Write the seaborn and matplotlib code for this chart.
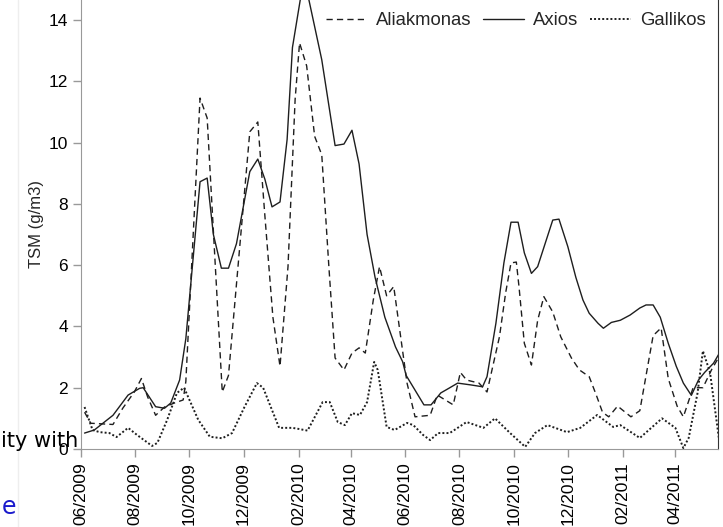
import pandas as pd
import numpy as np
import matplotlib
matplotlib.use('Agg')
import matplotlib.pyplot as plt
import matplotlib.dates as mdates
from matplotlib.lines import Line2D
import seaborn as sns

# values (TSM, g/m3)
aliakmonas_dates = ['2009-06-05', '2009-06-12', '2009-07-07', '2009-07-18', '2009-07-31', '2009-08-08',
                    '2009-08-15', '2009-08-24', '2009-09-03', '2009-09-14', '2009-09-24', '2009-09-27',
                    '2009-10-13', '2009-10-21', '2009-11-07', '2009-11-14', '2009-12-08', '2009-12-17',
                    '2009-12-25', '2010-01-03', '2010-01-11', '2010-01-20', '2010-01-28', '2010-02-02',
                    '2010-02-10', '2010-02-19', '2010-02-27', '2010-03-07', '2010-03-14', '2010-03-24',
                    '2010-04-02', '2010-04-10', '2010-04-17', '2010-04-26', '2010-05-03', '2010-05-11',
                    '2010-05-19', '2010-06-03', '2010-06-12', '2010-06-29', '2010-07-07', '2010-07-25',
                    '2010-08-02', '2010-08-09', '2010-08-23', '2010-09-01', '2010-09-15', '2010-09-22',
                    '2010-09-28', '2010-10-04', '2010-10-07', '2010-10-13', '2010-10-21', '2010-10-28',
                    '2010-11-04', '2010-11-14', '2010-11-23', '2010-12-05', '2010-12-14', '2010-12-25',
                    '2011-01-02', '2011-01-09', '2011-01-16', '2011-01-26', '2011-02-10', '2011-02-20',
                    '2011-03-07', '2011-03-16', '2011-03-24', '2011-04-03', '2011-04-10', '2011-04-21',
                    '2011-05-02', '2011-05-12', '2011-05-21']
aliakmonas = [1.2, 0.84, 0.8, 1.33, 1.86, 2.3, 1.7, 1.1, 1.37, 1.5, 1.6, 2.2,
              11.45, 10.8, 1.86, 2.4, 10.35, 10.67, 7.6, 4.3, 2.7, 5.95, 11.4, 13.25,
              12.5, 10.2, 9.6, 5.95, 2.97, 2.58, 3.13, 3.3, 3.13, 4.86, 5.95, 5.0,
              5.3, 2.15, 1.05, 1.1, 1.76, 1.44, 2.5, 2.25, 2.15, 1.86, 3.66, 5.1,
              6.07, 6.1, 5.3, 3.45, 2.74, 4.2, 4.97, 4.47, 3.66, 2.97, 2.58, 2.36,
              1.76, 1.2, 1.05, 1.4, 1.05, 1.25, 3.7, 3.95, 2.3, 1.4, 1.05, 2.0,
              2.0, 2.6, 3.05]

axios_dates = ['2009-06-05', '2009-06-16', '2009-07-07', '2009-07-24', '2009-08-06', '2009-08-10',
               '2009-08-24', '2009-09-03', '2009-09-10', '2009-09-20', '2009-09-27', '2009-10-13',
               '2009-10-21', '2009-10-28', '2009-11-06', '2009-11-14', '2009-11-23', '2009-12-08',
               '2009-12-17', '2009-12-25', '2010-01-02', '2010-01-11', '2010-01-19', '2010-01-25',
               '2010-02-07', '2010-02-27', '2010-03-14', '2010-03-24', '2010-04-02', '2010-04-10',
               '2010-04-19', '2010-04-28', '2010-05-09', '2010-05-21', '2010-05-29', '2010-06-02',
               '2010-06-22', '2010-06-30', '2010-07-11', '2010-07-20', '2010-07-30', '2010-08-14',
               '2010-08-27', '2010-09-01', '2010-09-11', '2010-09-20', '2010-09-28', '2010-10-06',
               '2010-10-13', '2010-10-21', '2010-10-28', '2010-11-14', '2010-11-21', '2010-12-01',
               '2010-12-10', '2010-12-18', '2010-12-25', '2011-01-04', '2011-01-10', '2011-01-19',
               '2011-01-29', '2011-02-09', '2011-02-20', '2011-02-27', '2011-03-07', '2011-03-15',
               '2011-03-24', '2011-04-02', '2011-04-10', '2011-04-19', '2011-04-27', '2011-05-04',
               '2011-05-14', '2011-05-20']
axios = [0.52, 0.62, 1.1, 1.76, 1.98, 2.0, 1.38, 1.33, 1.5, 2.25, 3.6, 8.72,
         8.84, 7.0, 5.9, 5.9, 6.7, 9.05, 9.46, 8.8, 7.9, 8.06, 10.1, 13.1,
         15.4, 12.7, 9.9, 9.95, 10.4, 9.3, 7.0, 5.6, 4.3, 3.33, 2.85, 2.4,
         1.44, 1.44, 1.83, 1.98, 2.15, 2.09, 2.03, 2.36, 4.1, 6.07, 7.4, 7.4,
         6.4, 5.73, 5.95, 7.47, 7.5, 6.6, 5.6, 4.86, 4.43, 4.1, 3.94, 4.13,
         4.2, 4.37, 4.6, 4.7, 4.7, 4.3, 3.45, 2.7, 2.15, 1.75, 2.25, 2.5,
         2.8, 3.1]

gallikos_dates = ['2009-06-05', '2009-06-14', '2009-06-22', '2009-07-03', '2009-07-11', '2009-07-24',
                  '2009-08-03', '2009-08-20', '2009-08-26', '2009-09-06', '2009-09-17', '2009-09-25',
                  '2009-10-11', '2009-10-24', '2009-11-07', '2009-11-18', '2009-12-02', '2009-12-16',
                  '2009-12-23', '2010-01-02', '2010-01-10', '2010-01-25', '2010-02-02', '2010-02-11',
                  '2010-02-28', '2010-03-08', '2010-03-17', '2010-03-25', '2010-04-02', '2010-04-11',
                  '2010-04-19', '2010-04-27', '2010-05-01', '2010-05-11', '2010-05-20', '2010-06-03',
                  '2010-06-10', '2010-06-21', '2010-06-29', '2010-07-08', '2010-07-21', '2010-08-09',
                  '2010-08-28', '2010-09-10', '2010-09-27', '2010-10-14', '2010-10-25', '2010-11-08',
                  '2010-11-30', '2010-12-15', '2011-01-03', '2011-01-21', '2011-01-29', '2011-02-20',
                  '2011-03-17', '2011-04-01', '2011-04-10', '2011-04-16', '2011-04-26', '2011-05-02',
                  '2011-05-10', '2011-05-17', '2011-05-20']
gallikos = [1.37, 0.62, 0.55, 0.52, 0.39, 0.69, 0.46, 0.1, 0.2, 0.95, 1.83, 2.0,
            0.95, 0.4, 0.35, 0.52, 1.37, 2.15, 2.0, 1.27, 0.69, 0.69, 0.65, 0.6,
            1.53, 1.53, 0.88, 0.78, 1.17, 1.11, 1.53, 2.84, 2.58, 0.72, 0.62, 0.85,
            0.78, 0.46, 0.29, 0.52, 0.52, 0.88, 0.69, 1.0, 0.52, 0.07, 0.52, 0.78,
            0.55, 0.69, 1.11, 0.72, 0.78, 0.36, 1.0, 0.69, 0.03, 0.36, 1.83, 3.2,
            2.5, 1.0, 0.35]

rivers = ['Aliakmonas', 'Axios', 'Gallikos']
y_ticks = [0, 2, 4, 6, 8, 10, 12, 14]

df = pd.concat([
    pd.DataFrame({'date': pd.to_datetime(aliakmonas_dates), 'tsm': aliakmonas, 'river': 'Aliakmonas'}),
    pd.DataFrame({'date': pd.to_datetime(axios_dates), 'tsm': axios, 'river': 'Axios'}),
    pd.DataFrame({'date': pd.to_datetime(gallikos_dates), 'tsm': gallikos, 'river': 'Gallikos'}),
], ignore_index=True)

sns.set_style('ticks')
plt.rcParams['font.family'] = ['Liberation Sans', 'DejaVu Sans']

line_color = '#1e1e1e'
dash_pat = (4.5, 3)
dot_pat = (1, 1.1)

fig = plt.figure(figsize=(7.23, 5.27), dpi=100)
ax = fig.add_axes([81 / 723, 1 - 449 / 527, 637 / 723, 449 / 527])
sns.lineplot(data=df[df['river'] != 'Gallikos'], x='date', y='tsm', style='river',
             style_order=rivers[:2], dashes={'Aliakmonas': dash_pat, 'Axios': ''},
             color=line_color, linewidth=1.0, estimator=None, ax=ax, legend=False)
sns.lineplot(data=df[df['river'] == 'Gallikos'], x='date', y='tsm', color=line_color,
             linewidth=1.4, dashes=False, estimator=None, ax=ax, legend=False)
ax.lines[-1].set_dashes(dot_pat)

ax.set_xlim(pd.Timestamp('2009-06-01'), pd.Timestamp('2011-05-19'))
ax.set_ylim(0, 14.65)
ax.set_yticks(y_ticks)
ax.xaxis.set_major_locator(mdates.MonthLocator(bymonth=[2, 4, 6, 8, 10, 12]))
ax.xaxis.set_major_formatter(mdates.DateFormatter('%m/%Y'))
plt.setp(ax.get_xticklabels(), rotation=90)
ax.tick_params(axis='both', labelsize=12.5, labelcolor='black', color='#999999', length=6, width=1)
ax.set_xlabel('')
ax.set_ylabel('TSM (g/m3)', fontsize=12, labelpad=3)

for side in ['left', 'bottom']:
    ax.spines[side].set_color('#999999')
ax.spines['right'].set_color('#333333')
ax.spines['top'].set_visible(False)

handles = [Line2D([], [], color=line_color, lw=1.0, dashes=dash_pat),
           Line2D([], [], color=line_color, lw=1.0),
           Line2D([], [], color=line_color, lw=1.4, dashes=dot_pat)]
ax.legend(handles, rivers, ncol=3, frameon=False, loc='upper right', bbox_to_anchor=(1.0, 1.0),
          borderaxespad=0.25, fontsize=13.3, handlelength=2.2, handletextpad=0.5, columnspacing=0.65)

# bits of the surrounding page that show in the screenshot
fig.add_artist(Line2D([18 / 723, 18 / 723], [0, 1], color='#eeeeee', lw=1))
fig.text(78 / 723, 1 - 447 / 527, 'ity with', fontsize=15, ha='right', va='baseline',
         family='DejaVu Sans', color='black')
fig.text(16 / 723, 1 - 514 / 527, 'e', fontsize=17, ha='right', va='baseline',
         family='DejaVu Sans', color='#1a1acc')

fig.savefig('out.png', dpi=100)
